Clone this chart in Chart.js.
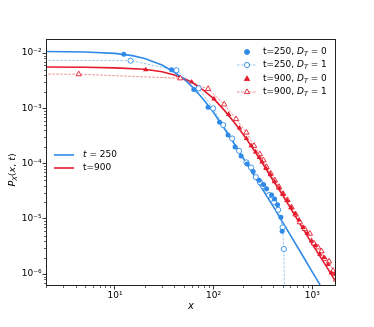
<!DOCTYPE html>
<html>
<head>
<meta charset="UTF-8">
<title>P_X(x,t)</title>
<script src="https://cdn.jsdelivr.net/npm/chart.js"></script>
<style>
    body { margin: 0; background: #fff; }
    #wrap { width: 374px; height: 327px; position: relative; }
</style>
</head>
<body>
<div id="wrap"><canvas id="chart"></canvas></div>
<script>
// theory curves
const xTheory250 = [2, 5, 10, 15, 20, 30, 40, 50, 60, 70, 80, 100, 130, 170, 220, 300, 400, 600, 800, 1000, 1200];
const pTheory250 = [1.07e-2, 1.05e-2, 9.9e-3, 9.0e-3, 8.0e-3, 6.1e-3, 4.5e-3, 3.4e-3, 2.5e-3, 1.85e-3, 1.4e-3, 8.4e-4, 4.2e-4, 2.0e-4, 9.5e-5, 3.9e-5, 1.7e-5, 5.1e-6, 2.15e-6, 1.1e-6, 6.4e-7];
const xTheory900 = [2, 5, 10, 20, 30, 40, 50, 60, 80, 100, 130, 170, 220, 300, 400, 500, 700, 1000, 1400, 1750];
const pTheory900 = [5.6e-3, 5.55e-3, 5.4e-3, 5.1e-3, 4.6e-3, 4.0e-3, 3.45e-3, 3.0e-3, 2.1e-3, 1.5e-3, 9.0e-4, 5.0e-4, 2.65e-4, 1.15e-4, 5.0e-5, 2.7e-5, 1.0e-5, 3.5e-6, 1.35e-6, 7.0e-7];

// simulation, t=250
const x250d0 = [12.3, 37.5, 63, 88, 115, 140, 165, 190, 219, 252, 290, 320, 344, 387, 415, 445, 481, 495];
const p250d0 = [9.5e-3, 5.0e-3, 2.2e-3, 1.05e-3, 5.6e-4, 3.3e-4, 2.0e-4, 1.38e-4, 9.8e-5, 7.2e-5, 5.0e-5, 4.2e-5, 3.5e-5, 2.7e-5, 2.3e-5, 1.8e-5, 1.07e-5, 6.0e-6];
const x250d1 = [1, 14.4, 42, 70.5, 99, 125, 154, 181, 215, 240, 268, 295, 318, 366, 411, 451, 500, 515, 530];
const p250d1 = [7.4e-3, 7.3e-3, 4.9e-3, 2.3e-3, 1.0e-3, 5.0e-4, 2.85e-4, 1.7e-4, 1.05e-4, 8.5e-5, 5.7e-5, 4.6e-5, 3.9e-5, 2.7e-5, 2.0e-5, 1.46e-5, 7.0e-6, 2.85e-6, 1e-7];

// simulation, t=900
const x900d0 = [20.5, 60, 101, 142, 183, 215, 240, 266, 290, 310, 340, 377, 415, 461, 505, 556, 610, 670, 735, 807, 890, 981, 1080, 1190, 1310, 1445, 1560, 1690];
const p900d0 = [5.0e-3, 3.0e-3, 1.48e-3, 7.8e-4, 4.4e-4, 2.85e-4, 2.1e-4, 1.63e-4, 1.3e-4, 1.07e-4, 8.2e-5, 6.3e-5, 4.7e-5, 3.6e-5, 2.8e-5, 2.15e-5, 1.6e-5, 1.23e-5, 9.6e-6, 7.0e-6, 5.5e-6, 4.0e-6, 3.3e-6, 2.3e-6, 2.0e-6, 1.5e-6, 1.05e-6, 1.0e-6];
const x900d1 = [1, 4.3, 46, 88, 128, 169, 215, 257, 294, 320, 344, 380, 418, 460, 507, 560, 616, 680, 748, 840, 945, 1040, 1145, 1240, 1340, 1480, 1625, 1750];
const p900d1 = [4.2e-3, 4.15e-3, 3.5e-3, 2.25e-3, 1.18e-3, 6.4e-4, 3.65e-4, 2.1e-4, 1.48e-4, 1.15e-4, 8.7e-5, 6.6e-5, 5.0e-5, 3.8e-5, 2.85e-5, 2.2e-5, 1.62e-5, 1.2e-5, 8.7e-6, 6.6e-6, 5.4e-6, 3.6e-6, 3.05e-6, 2.6e-6, 1.9e-6, 1.7e-6, 1.15e-6, 8e-7];

const xMajor = [10, 100, 1000];
const yMajor = [1e-6, 1e-5, 1e-4, 1e-3, 1e-2];

const BLUE = '#2e8ae6';
const BLUE_LIGHT = 'rgba(46,138,230,0.6)';
const RED = '#e41b2c';
const RED_LIGHT = 'rgba(228,27,44,0.65)';
const FONT = '"DejaVu Sans"';

function pts(xs, ys) {
    return xs.map((x, i) => ({x: x, y: ys[i]}));
}

const SUP = {'0':'⁰','1':'¹','2':'²','3':'³','4':'⁴','5':'⁵','6':'⁶','7':'⁷','8':'⁸','9':'⁹','-':'⁻'};
function powLabel(v) {
    const e = Math.log10(v);
    if (Math.abs(e - Math.round(e)) > 1e-6) return '';
    return '10' + String(Math.round(e)).split('').map(c => SUP[c]).join('');
}

// major + minor ticks (2..9 in each decade) inside [min,max]
function logTicks(min, max, majors) {
    const out = [];
    for (let e = Math.floor(Math.log10(min)); e <= Math.ceil(Math.log10(max)); e++) {
        for (let m = 1; m <= 9; m++) {
            const v = m * Math.pow(10, e);
            if (v >= min && v <= max) out.push({value: v, major: m === 1 && majors.some(t => Math.abs(t - v) / t < 1e-9)});
        }
    }
    return out;
}

function measureParts(ctx, parts, size) {
    let w = 0;
    for (const p of parts) {
        ctx.font = (p.it ? 'italic ' : '') + (p.sub ? size * 0.72 : size) + 'px ' + FONT;
        w += ctx.measureText(p.t).width;
    }
    return w;
}
function drawParts(ctx, x, y, parts, size) {
    let cx = x;
    ctx.textBaseline = 'middle';
    ctx.textAlign = 'left';
    for (const p of parts) {
        ctx.font = (p.it ? 'italic ' : '') + (p.sub ? size * 0.72 : size) + 'px ' + FONT;
        ctx.fillText(p.t, cx, y + (p.sub ? size * 0.28 : 0));
        cx += ctx.measureText(p.t).width;
    }
}

const extras = {
    id: 'extras',
    afterDraw(chart) {
        const ctx = chart.ctx;
        const a = chart.chartArea;
        ctx.save();
        // box
        ctx.strokeStyle = '#222';
        ctx.lineWidth = 1;
        ctx.strokeRect(a.left + 0.5, a.top + 0.5, a.right - a.left - 1, a.bottom - a.top - 1);
        // minor ticks
        ctx.lineWidth = 0.7;
        ctx.beginPath();
        chart.scales.x.ticks.forEach(t => {
            if (t.major) return;
            const px = Math.round(chart.scales.x.getPixelForValue(t.value)) + 0.5;
            ctx.moveTo(px, a.bottom); ctx.lineTo(px, a.bottom + 2);
        });
        chart.scales.y.ticks.forEach(t => {
            if (t.major) return;
            const py = Math.round(chart.scales.y.getPixelForValue(t.value)) + 0.5;
            ctx.moveTo(a.left, py); ctx.lineTo(a.left - 2, py);
        });
        ctx.stroke();

        ctx.fillStyle = '#000';
        // axis titles
        drawParts(ctx, (a.left + a.right) / 2 - 3, 306, [{t: 'x', it: true}], 10);
        const yt = [{t: 'P', it: true}, {t: 'X', it: true, sub: true}, {t: '('}, {t: 'x', it: true}, {t: ', '}, {t: 't', it: true}, {t: ')'}];
        ctx.save();
        ctx.translate(13, 170);
        ctx.rotate(-Math.PI / 2);
        drawParts(ctx, -measureParts(ctx, yt, 9.5) / 2, 0, yt, 9.5);
        ctx.restore();

        // upper right legend
        const lab = (t, d) => [{t: t + ', '}, {t: 'D', it: true}, {t: 'T', it: true, sub: true}, {t: ' = ' + d}];
        const rows = [
            {y: 52, color: BLUE, fill: BLUE, line: null, style: 'circle', r: 2.5, text: lab('t=250', '0')},
            {y: 65, color: BLUE, fill: '#fff', line: BLUE_LIGHT, style: 'circle', r: 2.6, text: lab('t=250', '1')},
            {y: 79, color: RED, fill: RED, line: null, style: 'triangle', r: 3.1, text: lab('t=900', '0')},
            {y: 92, color: RED, fill: '#fff', line: RED_LIGHT, style: 'triangle', r: 3.1, text: lab('t=900', '1')}
        ];
        rows.forEach(r => {
            if (r.line) {
                ctx.strokeStyle = r.line;
                ctx.lineWidth = 0.8;
                ctx.setLineDash([2.5, 1.5]);
                ctx.beginPath(); ctx.moveTo(237, r.y); ctx.lineTo(257, r.y); ctx.stroke();
                ctx.setLineDash([]);
            }
            ctx.fillStyle = r.fill;
            ctx.strokeStyle = r.color;
            ctx.lineWidth = 0.9;
            Chart.helpers.drawPoint(ctx, {pointStyle: r.style, radius: r.r, rotation: 0, borderWidth: 0.9}, 247, r.y);
            ctx.fillStyle = '#000';
            drawParts(ctx, 263, r.y, r.text, 9);
        });

        // left legend
        const rows2 = [
            {y: 155, color: BLUE, text: [{t: 't', it: true}, {t: ' = 250'}]},
            {y: 168, color: RED, text: [{t: 't=900'}]}
        ];
        rows2.forEach(r => {
            ctx.strokeStyle = r.color;
            ctx.lineWidth = 1.6;
            ctx.beginPath(); ctx.moveTo(54, r.y); ctx.lineTo(74, r.y); ctx.stroke();
            ctx.fillStyle = '#000';
            drawParts(ctx, 83, r.y, r.text, 9);
        });
        ctx.restore();
    }
};

new Chart(document.getElementById('chart'), {
    type: 'scatter',
    data: {
        datasets: [
            {data: pts(x250d0, p250d0), showLine: false, pointStyle: 'circle', pointRadius: 2.5,
             pointBackgroundColor: BLUE, pointBorderColor: BLUE, pointBorderWidth: 0, order: 1},
            {data: pts(x250d1, p250d1), showLine: true, borderColor: BLUE_LIGHT, borderWidth: 0.8, borderDash: [2.5, 1.5],
             pointStyle: 'circle', pointRadius: 2.6, pointBackgroundColor: '#fff', pointBorderColor: BLUE, pointBorderWidth: 0.9, order: 2},
            {data: pts(x900d0, p900d0), showLine: false, pointStyle: 'triangle', pointRadius: 3.1,
             pointBackgroundColor: RED, pointBorderColor: RED, pointBorderWidth: 0, order: 3},
            {data: pts(x900d1, p900d1), showLine: true, borderColor: RED_LIGHT, borderWidth: 0.8, borderDash: [2.5, 1.5],
             pointStyle: 'triangle', pointRadius: 3.1, pointBackgroundColor: '#fff', pointBorderColor: RED, pointBorderWidth: 0.9, order: 4},
            {data: pts(xTheory250, pTheory250), showLine: true, borderColor: BLUE, borderWidth: 1.6, pointRadius: 0, order: 5},
            {data: pts(xTheory900, pTheory900), showLine: true, borderColor: RED, borderWidth: 1.6, pointRadius: 0, order: 6}
        ]
    },
    options: {
        responsive: true,
        maintainAspectRatio: false,
        animation: false,
        devicePixelRatio: 1,
        layout: {padding: {left: 0, top: 39, right: 38, bottom: 0}},
        plugins: {legend: {display: false}, tooltip: {enabled: false}},
        scales: {
            x: {
                type: 'logarithmic',
                min: 2, max: 1740,
                afterBuildTicks: s => { s.ticks = logTicks(2, 1740, xMajor); },
                afterFit: s => { s.height = 41; },
                border: {display: false},
                grid: {drawOnChartArea: false, drawTicks: true, tickLength: 3.5,
                       tickColor: c => (c.tick && c.tick.major) ? '#222' : 'rgba(0,0,0,0)', tickWidth: 0.9},
                ticks: {autoSkip: false, maxRotation: 0, padding: 1, color: '#000',
                        font: {family: 'DejaVu Sans', size: 9}, callback: v => powLabel(v)}
            },
            y: {
                type: 'logarithmic',
                min: 6.1e-7, max: 1.8e-2,
                afterBuildTicks: s => { s.ticks = logTicks(6.1e-7, 1.8e-2, yMajor); },
                afterFit: s => { s.width = 46; },
                border: {display: false},
                grid: {drawOnChartArea: false, drawTicks: true, tickLength: 3.5,
                       tickColor: c => (c.tick && c.tick.major) ? '#222' : 'rgba(0,0,0,0)', tickWidth: 0.9},
                ticks: {autoSkip: false, padding: 1, color: '#000',
                        font: {family: 'DejaVu Sans', size: 9}, callback: v => powLabel(v)}
            }
        }
    },
    plugins: [extras]
});
</script>
</body>
</html>
